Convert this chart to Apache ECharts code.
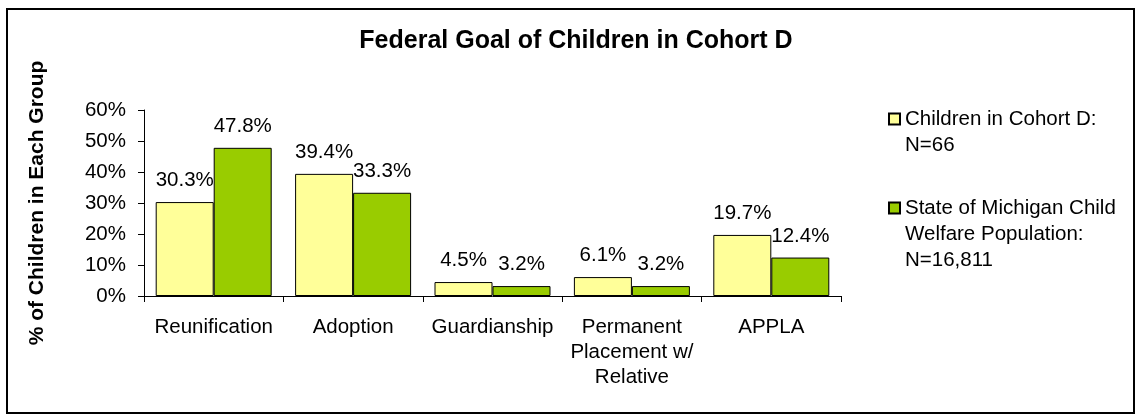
<!DOCTYPE html>
<html>
<head>
<meta charset="utf-8">
<script src="https://cdn.jsdelivr.net/npm/echarts@6/dist/echarts.min.js"></script>
<style>
html,body{margin:0;padding:0;background:#fff;}
#chart{width:1135px;height:414px;}
</style>
</head>
<body>
<div id="chart"></div>
<script>
const categories = ['Reunification', 'Adoption', 'Guardianship', 'Permanent\nPlacement w/\nRelative', 'APPLA'];
const cohortValues = [30.3, 39.4, 4.5, 6.1, 19.7];
const michiganValues = [47.8, 33.3, 3.2, 3.2, 12.4];
const seriesNames = ['Children in Cohort D:\nN=66', 'State of Michigan Child\nWelfare Population:\nN=16,811'];
const yTicks = [0, 10, 20, 30, 40, 50, 60];
const titleText = 'Federal Goal of Children in Cohort D';
const yAxisTitle = '% of Children in Each Group';

const FONT = 'Liberation Sans, Arial, sans-serif';
const FS = 20.5;
const chart = echarts.init(document.getElementById('chart'));
const labelCfg = {
  show: true, position: 'top', distance: 11,
  formatter: p => p.value.toFixed(1) + '%',
  fontFamily: FONT, fontSize: FS, color: '#000'
};
// leading blank lines keep the legend marker level with the first text line
const padLines = n => '\n'.repeat(n.split('\n').length - 1) + n;
chart.setOption({
  animation: false,
  backgroundColor: '#fff',
  title: {
    text: titleText, left: 576, top: 29, textAlign: 'center', padding: 0,
    textStyle: {fontFamily: FONT, fontSize: 25, fontWeight: 'bold', color: '#000'}
  },
  grid: {left: 144, right: 294, top: 110, bottom: 118, containLabel: false},
  legend: [
    {
      data: [seriesNames[0]], orient: 'vertical', left: 888, top: 80, padding: 0,
      itemWidth: 11, itemHeight: 11, icon: 'rect', formatter: padLines,
      textStyle: {fontFamily: FONT, fontSize: FS, color: '#000', lineHeight: 26}
    },
    {
      data: [seriesNames[1]], orient: 'vertical', left: 888, top: 143, padding: 0,
      itemWidth: 11, itemHeight: 11, icon: 'rect', formatter: padLines,
      textStyle: {fontFamily: FONT, fontSize: FS, color: '#000', lineHeight: 26}
    }
  ],
  xAxis: {
    type: 'category', data: categories,
    axisLine: {lineStyle: {color: '#000', width: 1}},
    axisTick: {show: true, length: 6, lineStyle: {color: '#000'}},
    axisLabel: {fontFamily: FONT, fontSize: FS, color: '#000', lineHeight: 25, margin: 19, interval: 0}
  },
  yAxis: {
    type: 'value', min: 0, max: yTicks[yTicks.length - 1], interval: 10,
    name: yAxisTitle, nameLocation: 'middle', nameGap: 96, nameRotate: 90,
    nameTextStyle: {fontFamily: FONT, fontSize: 21, fontWeight: 'bold', color: '#000'},
    axisLine: {show: true, lineStyle: {color: '#000', width: 1}},
    axisTick: {show: true, length: 6, lineStyle: {color: '#000'}},
    splitLine: {show: false},
    axisLabel: {fontFamily: FONT, fontSize: FS, color: '#000', margin: 18, formatter: v => v + '%'}
  },
  series: [
    {
      name: seriesNames[0], type: 'bar', data: cohortValues,
      barWidth: 58, barGap: '0%',
      itemStyle: {color: '#FFFF99', borderColor: '#000', borderWidth: 1},
      label: labelCfg
    },
    {
      name: seriesNames[1], type: 'bar', data: michiganValues,
      barWidth: 58, barGap: '0%',
      itemStyle: {color: '#99CC00', borderColor: '#000', borderWidth: 1},
      label: labelCfg
    }
  ],
  graphic: [{
    type: 'rect', silent: true, z: -1,
    shape: {x: 7, y: 9, width: 1127, height: 404},
    style: {fill: null, stroke: '#000', lineWidth: 2}
  }]
});
</script>
</body>
</html>
